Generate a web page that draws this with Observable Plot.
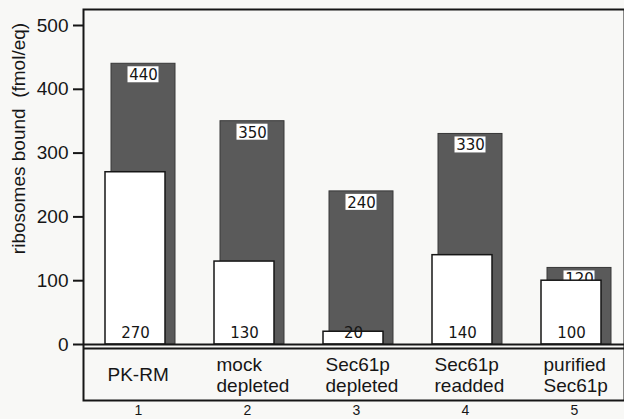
<!DOCTYPE html>
<html><head><meta charset="utf-8">
<script src="https://cdn.jsdelivr.net/npm/d3@7"></script>
<script src="https://cdn.jsdelivr.net/npm/@observablehq/plot@0.6"></script>
<style>
html,body{margin:0;padding:0;background:#f8f8f6;}
#chart svg{display:block;}
[aria-label^="y-axis"] line, [aria-label^="y-axis"] path {stroke-width:2px;}
</style></head><body><div id="chart"></div>
<script>
const categories = ["PK-RM", "mock depleted", "Sec61p depleted", "Sec61p readded", "purified Sec61p"];
const categoryLabels = ["PK-RM", "mock\ndepleted", "Sec61p\ndepleted", "Sec61p\nreadded", "purified\nSec61p"];
const laneNumbers = ["1", "2", "3", "4", "5"];
const totalBound = [440, 350, 240, 330, 120];
const partBound = [270, 130, 20, 140, 100];
const yTicks = [0, 100, 200, 300, 400, 500];
const yLabel = "ribosomes bound\u00a0 (fmol/eq)";

const data = categories.map((c, i) => ({
  cat: c, label: categoryLabels[i], lane: laneNumbers[i],
  total: totalBound[i], part: partBound[i]
}));

const ink = "#161616";
const chart = Plot.plot({
  width: 624, height: 419,
  marginLeft: 83, marginRight: 0, marginTop: 9, marginBottom: 19,
  style: {background: "transparent", fontFamily: "'Liberation Sans', Arial, sans-serif", fontSize: "19px", color: ink},
  x: {domain: categories, paddingInner: 0.415, paddingOuter: 0.178, align: 0.69, axis: null},
  y: {domain: [0, 500], range: [344, 25], ticks: yTicks, tickSize: 10, tickPadding: 5, label: null},
  marks: [
    Plot.barY(data, {x: "cat", y: "total", fill: "#5a5a5a", stroke: "#383838", strokeWidth: 1}),
    Plot.barY(data, {x: "cat", y1: "total", y2: "total", insetTop: 3, insetBottom: -19, insetLeft: 16.5, insetRight: 16.5, fill: "white"}),
    Plot.text(data, {x: "cat", y: "total", dy: 11.5, text: d => String(d.total), fontFamily: "'DejaVu Sans', sans-serif", fontSize: 15, fill: ink}),
    Plot.barY(data, {x: "cat", y: "part", fill: "white", stroke: ink, strokeWidth: 1.5, dx: -8, insetLeft: 2, insetRight: 2}),
    Plot.text(data, {x: "cat", y: () => 0, dx: -8, dy: -11, text: d => String(d.part), fontFamily: "'DejaVu Sans', sans-serif", fontSize: 15, fill: ink}),
    Plot.ruleY([0], {stroke: ink, strokeWidth: 2}),
    Plot.ruleY([0], {stroke: ink, strokeWidth: 2, dy: 4}),
    Plot.text(data, {x: "cat", text: "label", frameAnchor: "bottom", lineAnchor: "middle", dy: -26, dx: -36, textAnchor: "start", fontSize: 19, lineHeight: 1.1, fill: ink}),
    Plot.text(data, {x: "cat", text: "lane", frameAnchor: "bottom", lineAnchor: "middle", dy: 10, dx: -5, fontSize: 14, fill: ink}),
    Plot.text([yLabel], {frameAnchor: "top-left", lineAnchor: "middle", textAnchor: "middle", dx: -65, dy: 129, rotate: -90, fontSize: 19, fill: ink}),
    Plot.frame({stroke: ink, strokeWidth: 2})
  ]
});
document.getElementById("chart").appendChild(chart);
</script></body></html>
